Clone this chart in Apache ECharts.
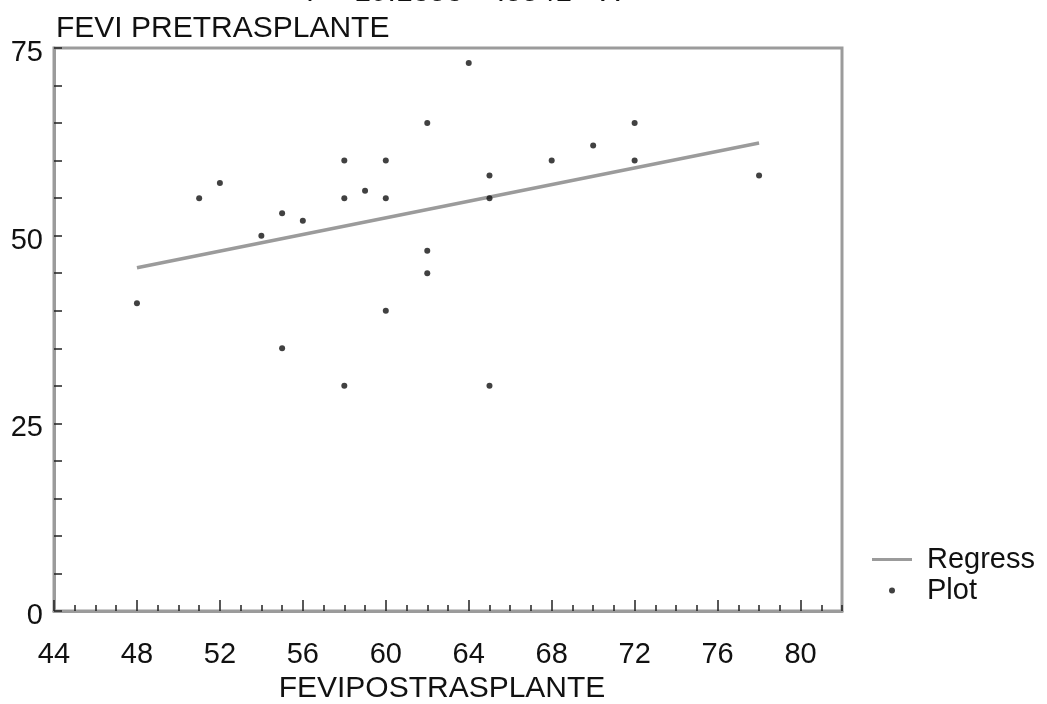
<!DOCTYPE html>
<html>
<head>
<meta charset="utf-8">
<script src="https://cdn.jsdelivr.net/npm/echarts@6/dist/echarts.min.js"></script>
<style>
  html, body { margin: 0; padding: 0; background: #fff; }
  #main { width: 1047px; height: 704px; }
</style>
</head>
<body>
<div id="main"></div>
<script>
// FEVI post vs pre transplant
const fevPost = [48, 51, 52, 54, 55, 55, 56, 58, 58, 58, 59, 60, 60, 60, 62, 62, 62, 64, 65, 65, 65, 68, 70, 72, 72, 78]
const fevPre  = [41, 55, 57, 50, 53, 35, 52, 60, 55, 30, 56, 60, 55, 40, 65, 48, 45, 73, 58, 55, 30, 60, 62, 65, 60, 58]

const xRange = [44, 82]
const xStep = 4
const yRange = [0, 75]
const yStep = 25

const FONT = '"Liberation Sans", Arial, sans-serif'
const GREY = '#9b9b9b'

// least squares fit, drawn between the smallest and largest x
const n = fevPost.length
const mx = fevPost.reduce((a, b) => a + b, 0) / n
const my = fevPre.reduce((a, b) => a + b, 0) / n
let sxy = 0, sxx = 0
for (let i = 0; i < n; i++) {
  sxy += (fevPost[i] - mx) * (fevPre[i] - my)
  sxx += (fevPost[i] - mx) * (fevPost[i] - mx)
}
const slope = sxy / sxx
const intercept = my - slope * mx
const x0 = Math.min(...fevPost), x1 = Math.max(...fevPost)
const regress = [[x0, intercept + slope * x0], [x1, intercept + slope * x1]]

const points = fevPost.map((x, i) => [x, fevPre[i]])

const chart = echarts.init(document.getElementById('main'))

chart.setOption({
  backgroundColor: '#fff',
  animation: false,
  textStyle: { fontFamily: FONT },
  grid: {
    left: 54, right: 205, top: 48, bottom: 93,
    outerBoundsMode: 'none',
    show: true, borderColor: GREY, borderWidth: 3, backgroundColor: 'transparent'
  },
  graphic: [
    {
      type: 'text', left: 56, top: 14,
      style: { text: 'FEVI PRETRASPLANTE', font: '30px ' + FONT, fill: '#111' }
    },
    {
      // equation line at the very top, mostly cut off in the scan
      type: 'text', left: 300, top: -22,
      style: {
        text: 'Y = ' + intercept.toFixed(4) + ' + ' + slope.toFixed(4).replace(/^0/, '') + ' * X',
        font: '30px ' + FONT, fill: '#111'
      }
    }
  ],
  legend: {
    orient: 'vertical',
    left: 867, top: 540,
    itemWidth: 40, itemHeight: 6, itemGap: 2,
    textStyle: { fontSize: 29, color: '#111', fontFamily: FONT, padding: [0, 0, 0, 10] },
    data: [
      { name: 'Regress', icon: 'path://M0,0 L40,0 L40,3 L0,3 Z' },
      { name: 'Plot', icon: 'circle' }
    ]
  },
  xAxis: [
    {
      type: 'value', min: xRange[0], max: xRange[1], interval: xStep,
      name: 'FEVIPOSTRASPLANTE', nameLocation: 'middle', nameGap: 63,
      nameTextStyle: { fontSize: 30, color: '#111', fontFamily: FONT, padding: [0, 12, 0, 0] },
      axisLine: { show: true, onZero: false, lineStyle: { color: GREY, width: 3 } },
      axisTick: { show: true, inside: true, length: 11, lineStyle: { color: '#222', width: 1.5 } },
      axisLabel: { fontSize: 29, color: '#111', margin: 29, showMaxLabel: false, fontFamily: FONT },
      splitLine: { show: false }
    },
    {
      // short ticks at every unit
      type: 'value', min: xRange[0], max: xRange[1], interval: 1,
      position: 'bottom',
      axisLine: { show: false },
      axisTick: { show: true, inside: true, length: 6, lineStyle: { color: '#222', width: 1.5 } },
      axisLabel: { show: false },
      splitLine: { show: false }
    }
  ],
  yAxis: {
    type: 'value', min: yRange[0], max: yRange[1], interval: yStep,
    axisLine: { show: true, onZero: false, lineStyle: { color: GREY, width: 3 } },
    axisTick: { show: true, inside: true, length: 8, lineStyle: { color: '#222', width: 1.5 } },
    minorTick: { show: true, splitNumber: 5, length: 8, lineStyle: { color: '#222', width: 1.5 } },
    axisLabel: {
      margin: 11, color: '#111',
      // labels sit a little below their ticks in the scan
      formatter: v => '{s| }\n{v|' + v + '}',
      rich: {
        s: { fontSize: 1, lineHeight: 10 },
        v: { fontSize: 29, lineHeight: 30, fontFamily: FONT, color: '#111' }
      }
    },
    splitLine: { show: false }
  },
  series: [
    {
      name: 'Regress', type: 'line', xAxisIndex: 0,
      data: regress, showSymbol: false, symbol: 'none',
      lineStyle: { color: GREY, width: 3.5 },
      itemStyle: { color: GREY },
      z: 2
    },
    {
      name: 'Plot', type: 'scatter', xAxisIndex: 0,
      data: points, symbol: 'circle', symbolSize: 6,
      itemStyle: { color: '#111' },
      z: 3
    }
  ]
})
</script>
</body>
</html>
